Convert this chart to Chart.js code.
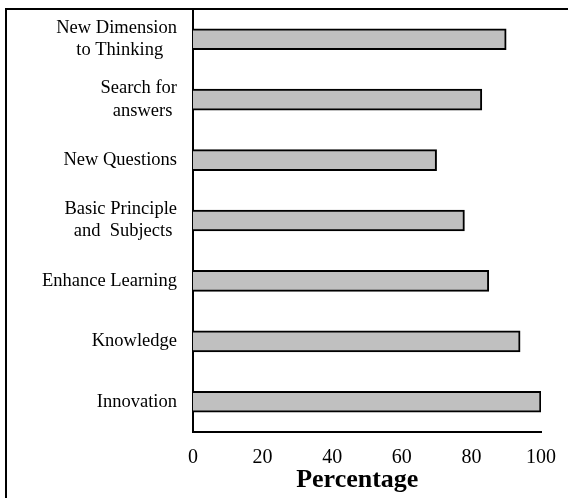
<!DOCTYPE html>
<html>
<head>
<meta charset="utf-8">
<script src="https://cdn.jsdelivr.net/npm/chart.js@4"></script>
<style>
  body { margin: 0; background: #fff; }
  #wrap { position: relative; width: 568px; height: 498px; }
</style>
</head>
<body>
<div id="wrap"><canvas id="myChart"></canvas></div>
<script>
// categories top to bottom, trailing spaces keep the 2nd line roughly centred
var categories = [
    ["New Dimension", "to Thinking   "],
    ["Search for", "answers "],
    "New Questions",
    ["Basic Principle", "and  Subjects "],
    "Enhance Learning",
    "Knowledge",
    "Innovation"
];
var percentages = [90, 83, 70, 78, 85, 94, 100];
var xTicks = [0, 20, 40, 60, 80, 100];

// outer frame (only left and top edges fall inside the picture)
var framePlugin = {
    id: 'frame',
    afterDraw: function(chart) {
        var c = chart.ctx;
        c.save();
        c.strokeStyle = '#000';
        c.lineWidth = 2;
        c.strokeRect(6, 9, 700, 700);
        c.restore();
    }
};

var ctx = document.getElementById("myChart").getContext('2d');
var myChart = new Chart(ctx, {
    type: 'bar',
    plugins: [framePlugin],
    data: {
        labels: categories,
        datasets: [{
            label: 'Percentage',
            data: percentages,
            backgroundColor: '#c0c0c0',
            borderColor: '#000',
            borderWidth: 2,
            barThickness: 21
        }]
    },
    options: {
        indexAxis: 'y',
        responsive: true, maintainAspectRatio: false,
        animation: false,
        layout: {
            padding: { top: 9, right: 27, left: 6, bottom: 0 }
        },
        plugins: {
            legend: { display: false },
            tooltip: { enabled: false }
        },
        scales: {
            x: {
                min: 0,
                max: 100,
                afterBuildTicks: function(scale) {
                    scale.ticks = xTicks.map(function(v) { return { value: v }; });
                },
                afterFit: function(scale) {
                    scale.height = 66;
                    scale.paddingLeft = 0;
                    scale.paddingRight = 0;
                },
                grid: { display: false, drawTicks: false },
                border: { display: true, color: '#000', width: 2 },
                ticks: {
                    color: '#000',
                    padding: 14,
                    maxRotation: 0,
                    font: { family: 'Liberation Serif', size: 20 }
                },
                title: {
                    display: true,
                    text: 'Percentage   ',
                    color: '#000',
                    padding: { top: 0, bottom: 2 },
                    font: { family: 'Liberation Serif', size: 26, weight: 'bold' }
                }
            },
            y: {
                afterFit: function(scale) {
                    scale.width = 187;
                    scale.paddingTop = 0;
                    scale.paddingBottom = 0;
                },
                grid: { display: false, drawTicks: false },
                border: { display: true, color: '#000', width: 2 },
                ticks: {
                    color: '#000',
                    padding: 16,
                    font: { family: 'Liberation Serif', size: 18.5, lineHeight: 1.2 }
                }
            }
        }
    }
});
</script>
</body>
</html>
